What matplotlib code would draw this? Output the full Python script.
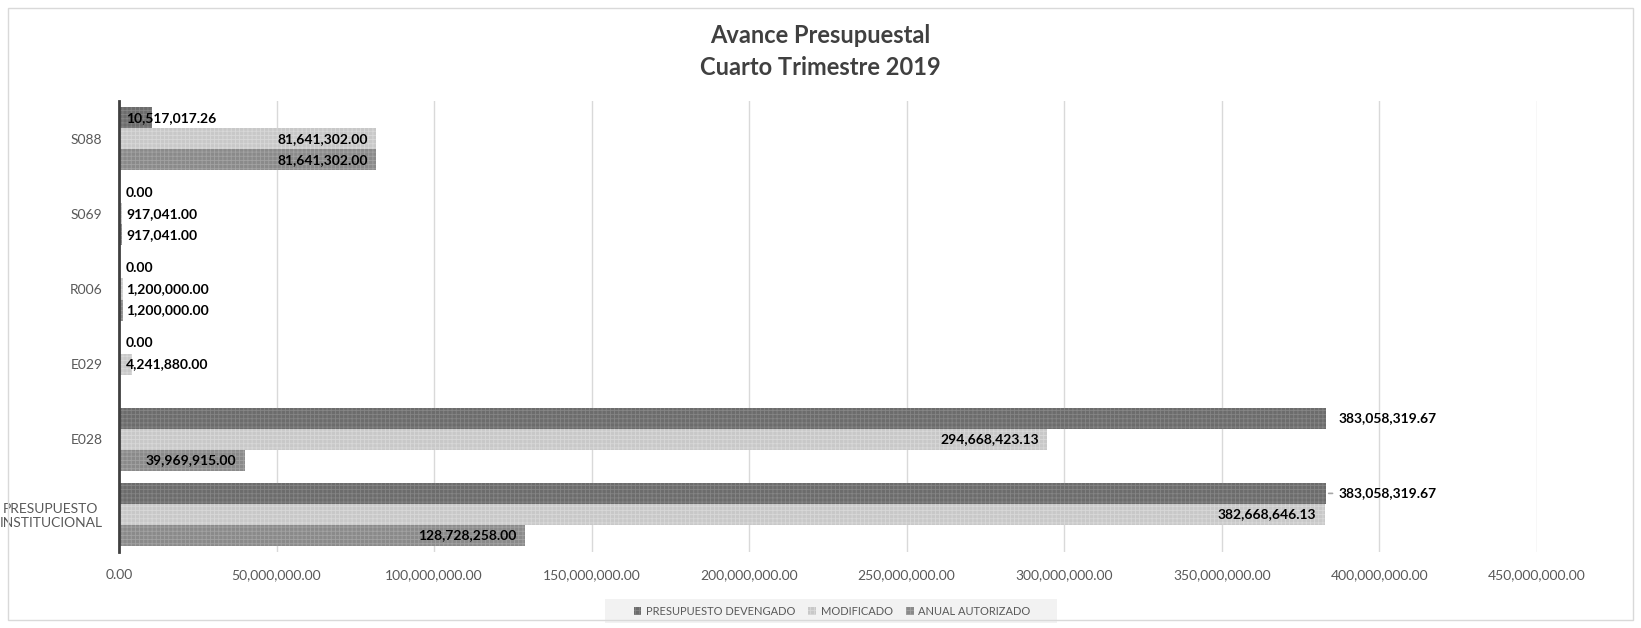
import matplotlib
matplotlib.use("Agg")
import matplotlib.pyplot as plt
from matplotlib.patches import Rectangle
import numpy as np

plt.rcParams['font.family'] = ['Lato', 'DejaVu Sans']
plt.rcParams['hatch.linewidth'] = 0.6

categories = ["PRESUPUESTO\nINSTITUCIONAL", "E028", "E029", "R006", "S069", "S088"]
devengado = [383058319.67, 383058319.67, 0.00, 0.00, 0.00, 10517017.26]
modificado = [382668646.13, 294668423.13, 4241880.00, 1200000.00, 917041.00, 81641302.00]
autorizado = [128728258.00, 39969915.00, None, 1200000.00, 917041.00, 81641302.00]
series_names = ["PRESUPUESTO DEVENGADO", "MODIFICADO", "ANUAL AUTORIZADO"]
xticks = np.arange(0, 450000001, 50000000)

fig = plt.figure(figsize=(16.41, 6.28), dpi=100)
ax = fig.add_axes([0.0725, 0.121, 0.864, 0.718])

# outer chart border
fig.patches.append(Rectangle((0.005, 0.012), 0.99, 0.975, transform=fig.transFigure,
                             fill=False, edgecolor="#d9d9d9", linewidth=1.0))
# legend background
fig.patches.append(Rectangle((0.3686, 0.008), 0.2755, 0.038, transform=fig.transFigure,
                             facecolor="#f2f2f2", edgecolor="none", zorder=0))

y = np.arange(len(categories))
h = 0.28
styles = [
    (devengado, h, "#6c6c6c", "#858585"),
    (modificado, 0, "#c8c8c8", "#d8d8d8"),
    (autorizado, -h, "#8a8a8a", "#a2a2a2"),
]

px_per_unit = (0.864 * 1641) / 450000000.0

for (vals, off, fc, hc), name in zip(styles, series_names):
    v = np.array([np.nan if a is None else a for a in vals], dtype=float)
    ax.barh(y + off, np.nan_to_num(v), height=h, color=fc, edgecolor=hc,
            hatch="++++", linewidth=0, label=name, zorder=2)
    for yi, val in zip(y + off, v):
        if np.isnan(val):
            continue
        txt = f"{val:,.2f}"
        need_px = len(txt) * 7.2 + 14
        if vals is devengado and val > 300000000:
            ax.annotate(txt, (val, yi), xytext=(9, 0), textcoords="offset points",
                        ha="left", va="center", fontsize=10, fontweight="bold",
                        color="black", zorder=4)
        elif val * px_per_unit > need_px:
            ax.annotate(txt, (val, yi), xytext=(-6, 0), textcoords="offset points",
                        ha="right", va="center", fontsize=10, fontweight="bold",
                        color="black", zorder=4)
        else:
            ax.annotate(txt, (0, yi), xytext=(5, 0), textcoords="offset points",
                        ha="left", va="center", fontsize=10, fontweight="bold",
                        color="black", zorder=4)

# leader line for the first label
ax.annotate("", xy=(devengado[0], y[0] + h), xytext=(devengado[0] + 3000000, y[0] + h),
            arrowprops=dict(arrowstyle="-", color="#a6a6a6", lw=1.2))

ax.set_xlim(0, 450000000)
ax.set_ylim(-0.5, 5.5)
ax.set_xticks(xticks)
ax.set_xticklabels([f"{t:,.2f}" for t in xticks])
ax.set_yticks(y)
ax.set_yticklabels(categories, multialignment="center")
ax.tick_params(axis="x", length=0, pad=12, labelsize=10, labelcolor="#595959")
ax.tick_params(axis="y", length=0, pad=12, labelsize=10, labelcolor="#595959")
ax.grid(axis="x", color="#d9d9d9", linewidth=1.0, zorder=0)
ax.set_axisbelow(True)
for s in ["top", "right", "bottom"]:
    ax.spines[s].set_visible(False)
ax.spines["left"].set_color("#404040")
ax.spines["left"].set_linewidth(2.0)
ax.spines["left"].set_zorder(3)

fig.text(0.5, 0.944, "Avance Presupuestal", ha="center", va="center",
         fontsize=17, fontweight="bold", color="#404040")
fig.text(0.5, 0.892, "Cuarto Trimestre 2019", ha="center", va="center",
         fontsize=17, fontweight="bold", color="#404040")

leg = fig.legend(loc="center", bbox_to_anchor=(0.507, 0.027), ncol=3, frameon=False,
                 fontsize=8, handlelength=0.7, handleheight=0.7, handletextpad=0.4,
                 columnspacing=1.2, borderpad=0.3)
for t in leg.get_texts():
    t.set_color("#595959")

fig.savefig("out.png", dpi=100)
